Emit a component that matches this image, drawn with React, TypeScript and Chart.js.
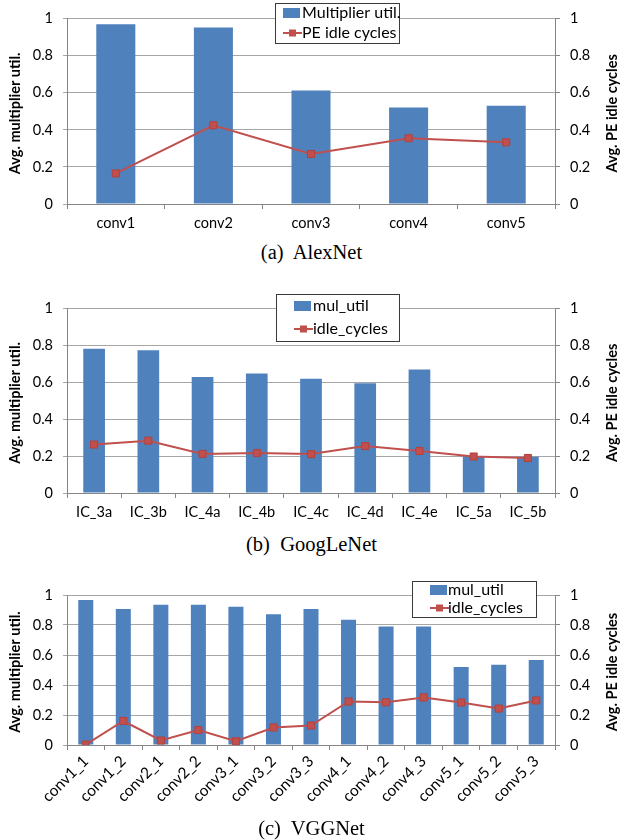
import React, { useEffect, useRef } from "react";
import { Chart, registerables } from "chart.js";

Chart.register(...registerables);

// ---------- data ----------
const alexCategories = ["conv1", "conv2", "conv3", "conv4", "conv5"];
const alexMulUtil = [0.97, 0.952, 0.613, 0.521, 0.53];
const alexIdle = [0.165, 0.425, 0.27, 0.355, 0.333];

const googCategories = ["IC_3a", "IC_3b", "IC_4a", "IC_4b", "IC_4c", "IC_4d", "IC_4e", "IC_5a", "IC_5b"];
const googMulUtil = [0.783, 0.775, 0.63, 0.648, 0.62, 0.595, 0.67, 0.2, 0.197];
const googIdle = [0.263, 0.284, 0.212, 0.217, 0.211, 0.255, 0.228, 0.198, 0.19];

const vggCategories = [
  "conv1_1", "conv1_2", "conv2_1", "conv2_2", "conv3_1", "conv3_2", "conv3_3",
  "conv4_1", "conv4_2", "conv4_3", "conv5_1", "conv5_2", "conv5_3",
];
const vggMulUtil = [0.967, 0.906, 0.935, 0.935, 0.922, 0.872, 0.907, 0.835, 0.79, 0.79, 0.52, 0.535, 0.567];
const vggIdle = [0.003, 0.16, 0.03, 0.1, 0.025, 0.117, 0.13, 0.29, 0.285, 0.317, 0.283, 0.243, 0.297];

const leftTitle = "Avg. multiplier util.";
const rightTitle = "Avg. PE idle cycles";

// ---------- styles ----------
const BLUE = "#4F81BD";
const RED = "#C0504D";
const GRID = "#A6A6A6";
const AXIS = "#868686";
const SANS = "Lato";

const fmtTick = (v: any) => `${+Number(v).toFixed(1)}`;

const sideTitles = {
  id: "sideTitles",
  afterDraw(chart: any, _args: any, opts: any) {
    const { ctx, chartArea } = chart;
    const cy = (chartArea.top + chartArea.bottom) / 2 + 2;
    ctx.save();
    ctx.font = `bold 14.5px ${SANS}`;
    ctx.fillStyle = "#000";
    ctx.textAlign = "center";
    ctx.textBaseline = "middle";
    for (const t of opts.titles || []) {
      ctx.save();
      ctx.translate(t.x, cy);
      ctx.rotate(-Math.PI / 2);
      ctx.fillText(t.text, 0, 0);
      ctx.restore();
    }
    ctx.restore();
  },
};

const boxLegend = {
  id: "boxLegend",
  afterDraw(chart: any, _args: any, opts: any) {
    const { ctx } = chart;
    const { x, y, w, h, swatchX, textX, rowY } = opts;
    const ds = chart.data.datasets;
    ctx.save();
    ctx.fillStyle = "#fff";
    ctx.fillRect(x, y, w, h);
    ctx.strokeStyle = "#3a3a3a";
    ctx.lineWidth = 1;
    ctx.strokeRect(x + 0.5, y + 0.5, w - 1, h - 1);
    ctx.font = `16px ${SANS}`;
    ctx.textBaseline = "middle";
    ctx.textAlign = "left";
    // bar row
    ctx.fillStyle = BLUE;
    ctx.fillRect(swatchX, rowY[0] - 5, 17, 10);
    ctx.fillStyle = "#000";
    ctx.fillText(ds[0].label, textX, rowY[0]);
    // line row
    ctx.strokeStyle = RED;
    ctx.lineWidth = 2;
    ctx.beginPath();
    ctx.moveTo(swatchX, rowY[1]);
    ctx.lineTo(swatchX + 19, rowY[1]);
    ctx.stroke();
    ctx.fillStyle = RED;
    ctx.fillRect(swatchX + 6, rowY[1] - 3.5, 7, 7);
    ctx.fillStyle = "#000";
    ctx.fillText(ds[1].label, textX, rowY[1]);
    ctx.restore();
  },
};

type ComboProps = {
  top: number;
  height: number;
  plotTop: number;
  xAxisHeight: number;
  rotate: number;
  xFont: number;
  xPad: number;
  categories: string[];
  bars: number[];
  line: number[];
  barLabel: string;
  lineLabel: string;
  legend: any;
};

function ComboChart(p: ComboProps) {
  const ref = useRef<HTMLCanvasElement | null>(null);
  useEffect(() => {
    if (!ref.current) return;
    const tickFont = { family: SANS, size: 14.5 };
    const chart = new Chart(ref.current, {
      type: "bar",
      data: {
        labels: p.categories,
        datasets: [
          {
            type: "bar",
            label: p.barLabel,
            data: p.bars,
            backgroundColor: BLUE,
            barPercentage: 0.4,
            categoryPercentage: 1,
            yAxisID: "y",
            order: 2,
          } as any,
          {
            type: "line",
            label: p.lineLabel,
            data: p.line,
            borderColor: RED,
            backgroundColor: RED,
            borderWidth: 2,
            pointStyle: "rect",
            pointRadius: 5,
            pointBorderWidth: 1,
            pointBackgroundColor: RED,
            pointBorderColor: "#B5403D",
            tension: 0,
            yAxisID: "y1",
            order: 1,
          } as any,
        ],
      },
      options: {
        responsive: false,
        animation: false,
        layout: { padding: { top: p.plotTop, left: 0, right: 0, bottom: 0 } },
        plugins: {
          legend: { display: false },
          tooltip: { enabled: false },
          boxLegend: p.legend,
          sideTitles: {
            titles: [
              { text: leftTitle, x: 15 },
              { text: rightTitle, x: 612 },
            ],
          },
        } as any,
        scales: {
          x: {
            offset: true,
            grid: {
              offset: true,
              drawOnChartArea: false,
              drawTicks: true,
              tickLength: 5,
              color: AXIS,
            },
            border: { color: AXIS },
            ticks: {
              font: { family: SANS, size: p.xFont },
              color: "#000",
              padding: p.xPad,
              autoSkip: false,
              maxRotation: p.rotate,
              minRotation: p.rotate,
            },
            afterFit: (s: any) => {
              s.height = p.xAxisHeight;
            },
          },
          y: {
            position: "left",
            min: 0,
            max: 1,
            ticks: { stepSize: 0.2, font: tickFont, color: "#000", padding: 10, callback: fmtTick },
            grid: { color: GRID, tickLength: 4 },
            border: { color: AXIS },
            afterFit: (s: any) => {
              s.width = 67;
            },
          },
          y1: {
            position: "right",
            min: 0,
            max: 1,
            ticks: { stepSize: 0.2, font: tickFont, color: "#000", padding: 10, callback: fmtTick },
            grid: { drawOnChartArea: false, tickLength: 5, color: AXIS },
            border: { color: AXIS },
            afterFit: (s: any) => {
              s.width = 68;
            },
          },
        },
      } as any,
      plugins: [boxLegend, sideTitles] as any,
    });
    return () => chart.destroy();
  }, []);
  return (
    <canvas
      ref={ref}
      width={623}
      height={p.height}
      style={{ position: "absolute", left: 0, top: p.top, width: 623, height: p.height }}
    />
  );
}

function Caption({ text, centerY }: { text: string; centerY: number }) {
  return (
    <div
      style={{
        position: "absolute",
        left: 0,
        width: 623,
        top: centerY - 12,
        height: 24,
        lineHeight: "24px",
        textAlign: "center",
        fontFamily: "'Liberation Serif', 'Times New Roman', serif",
        fontSize: 20.5,
        color: "#000",
        whiteSpace: "pre",
      }}
    >
      {text}
    </div>
  );
}

export default function App() {
  return (
    <div style={{ position: "absolute", left: 0, top: 0, width: 623, height: 840, background: "#fff" }}>
      <ComboChart
        top={0}
        height={235}
        plotTop={16}
        xAxisHeight={31}
        rotate={0}
        xFont={14.5}
        xPad={6}
        categories={alexCategories}
        bars={alexMulUtil}
        line={alexIdle}
        barLabel="Multiplier util."
        lineLabel="PE idle cycles"
        legend={{ x: 275, y: 3, w: 125, h: 41, swatchX: 283, textX: 302, rowY: [13, 33] }}
      />
      <Caption text="(a)  AlexNet" centerY={252} />
      <ComboChart
        top={290}
        height={235}
        plotTop={15}
        xAxisHeight={32}
        rotate={0}
        xFont={14.5}
        xPad={6}
        categories={googCategories}
        bars={googMulUtil}
        line={googIdle}
        barLabel="mul_util"
        lineLabel="idle_cycles"
        legend={{ x: 276, y: 4, w: 124, h: 48, swatchX: 294, textX: 313, rowY: [16, 39] }}
      />
      <Caption text="(b)  GoogLeNet" centerY={544} />
      <ComboChart
        top={575}
        height={242}
        plotTop={20}
        xAxisHeight={72}
        rotate={45}
        xFont={15.5}
        xPad={2}
        categories={vggCategories}
        bars={vggMulUtil}
        line={vggIdle}
        barLabel="mul_util"
        lineLabel="idle_cycles"
        legend={{ x: 412, y: 6, w: 125, h: 37, swatchX: 430, textX: 448, rowY: [15, 33] }}
      />
      <Caption text="(c)  VGGNet" centerY={828} />
    </div>
  );
}
